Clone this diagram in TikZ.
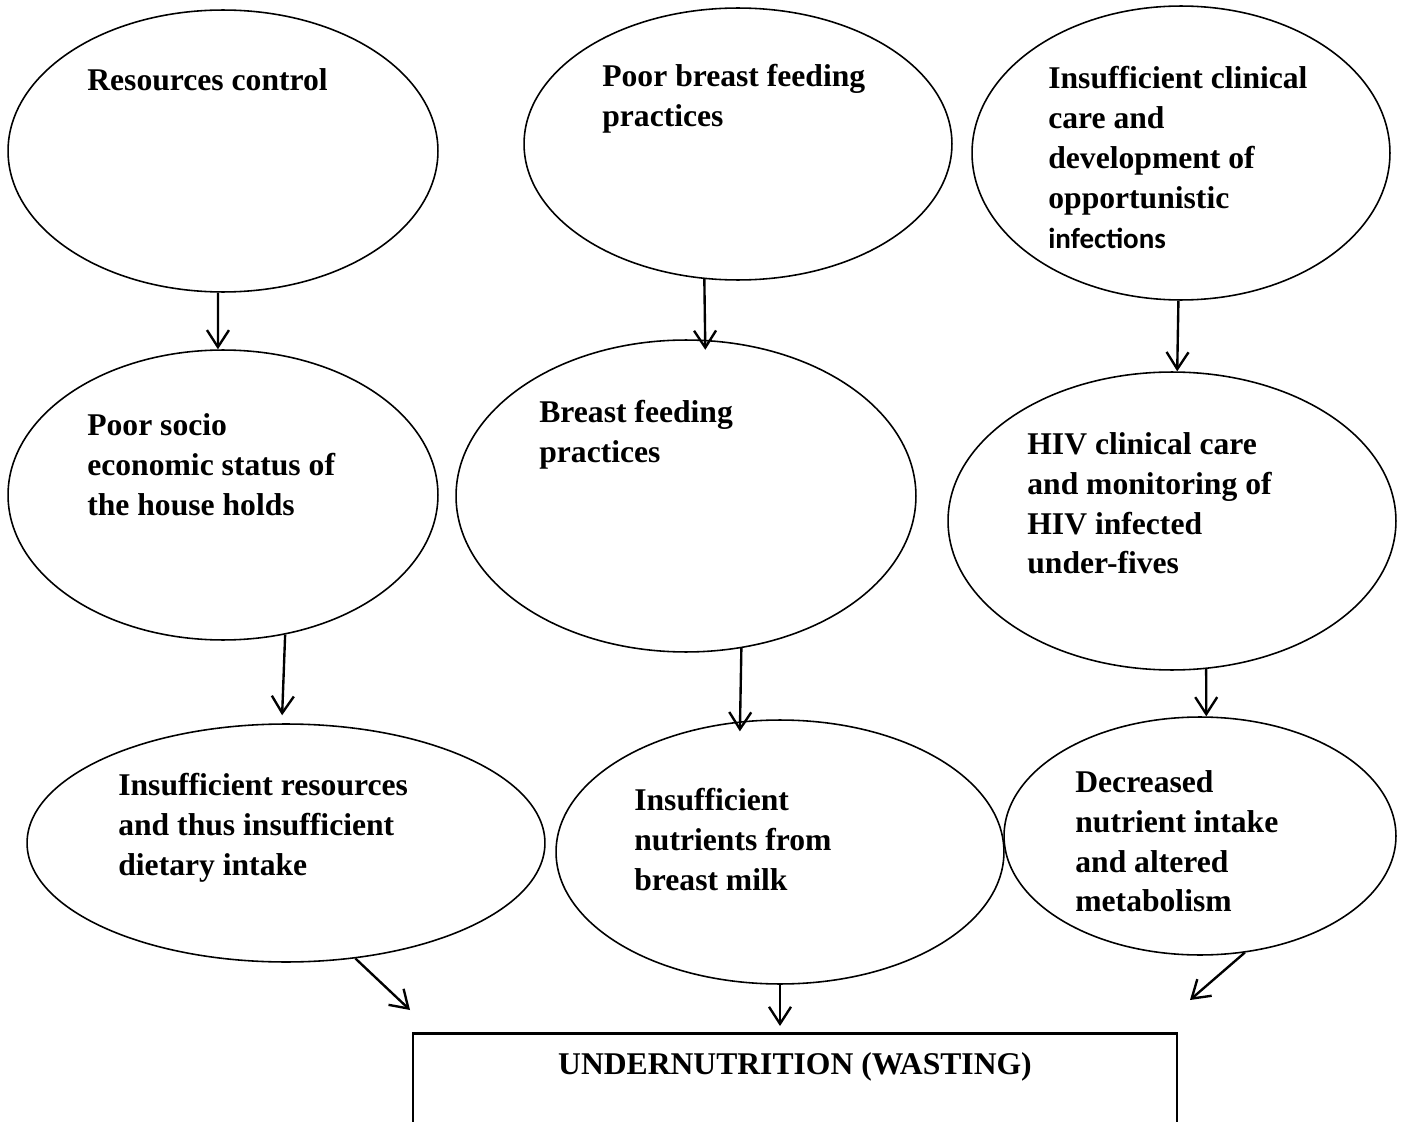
\documentclass[tikz,border=0pt]{standalone}
\usepackage{fontspec}
\setmainfont{Liberation Serif}
\newfontfamily\calibrifont{Carlito}
\usetikzlibrary{arrows.meta,shapes.geometric}

\begin{document}
\begin{tikzpicture}[
                x=0.02cm, y=-0.02cm,
                font=\fontsize{18}{22.7}\selectfont\bfseries,
                >={Straight Barb[length=0.34cm,width=0.44cm]},
                % Ovali per le cause
                bubble/.style={
                    draw,
                    ellipse,
                    line width=0.9pt,
                    inner sep=0pt
                },
                % Testo dentro gli ovali
                lbl/.style={anchor=north west, inner sep=0pt, align=left},
                cause/.style={->, line width=1.35pt}
            ]

                \useasboundingbox (0,0) rectangle (1401,1122);
                \clip (0,0) rectangle (1401,1122);

                % ========================================================
                % 1. Riga superiore
                % ========================================================
                \node[bubble, minimum width=8.6cm, minimum height=5.64cm] (res) at (223,151) {};
                \node[lbl] (res-t) at (87,68) {Resources control};

                \node[bubble, minimum width=8.56cm, minimum height=5.44cm] (pbf) at (738,144) {};
                \node[lbl] (pbf-t) at (602,64) {Poor breast feeding\\practices};

                \node[bubble, minimum width=8.36cm, minimum height=5.88cm] (clin) at (1181,153) {};
                \node[lbl] (clin-t) at (1048,66) {Insufficient clinical\\care and\\development of\\opportunistic\\{\calibrifont\fontsize{16.5}{20}\selectfont infections}};

                % ========================================================
                % 2. Riga centrale
                % ========================================================
                \node[bubble, minimum width=8.6cm, minimum height=5.8cm] (socio) at (223,495) {};
                \node[lbl] (socio-t) at (87,413) {Poor socio\\economic status of\\the house holds};

                \node[bubble, minimum width=9.2cm, minimum height=6.24cm] (bfp) at (686,496) {};
                \node[lbl] (bfp-t) at (539,400) {Breast feeding\\practices};

                \node[bubble, minimum width=8.96cm, minimum height=5.96cm] (hiv) at (1172,521) {};
                \node[lbl] (hiv-t) at (1027,432) {HIV clinical care\\and monitoring of\\HIV infected\\under-fives};

                % ========================================================
                % 3. Riga inferiore
                % ========================================================
                \node[bubble, minimum width=10.36cm, minimum height=4.76cm] (diet) at (286,843) {};
                \node[lbl] (diet-t) at (118,773) {Insufficient resources\\and thus insufficient\\dietary intake};

                \node[bubble, minimum width=8.96cm, minimum height=5.28cm] (milk) at (780,852) {};
                \node[lbl] (milk-t) at (634,788) {Insufficient\\nutrients from\\breast milk};

                \node[bubble, minimum width=7.84cm, minimum height=4.76cm] (intake) at (1200,836) {};
                \node[lbl] (intake-t) at (1075,770) {Decreased\\nutrient intake\\and altered\\metabolism};

                % ========================================================
                % 4. Riquadro finale (tagliato in basso)
                % ========================================================
                \node[draw, line width=1.6pt, minimum width=15.28cm, minimum height=2.8cm,
                      anchor=north] (wasting) at (795,1032) {};
                \node[anchor=north] (wasting-t) at (795,1046) {UNDERNUTRITION (WASTING)};

                % Punti liberi delle frecce oblique
                \coordinate (endl) at (410,1010);
                \coordinate (endr) at (1190,1000);

                % ========================================================
                % 5. Frecce
                % ========================================================
                \draw[cause] (res.-92) -- (socio.92);
                \draw[cause, shorten >=-0.2cm] (pbf.-104) -- (bfp.83);
                \draw[cause] (clin.-91) -- (hiv.88);

                \draw[cause, shorten >=0.16cm] (socio.-66) -- (diet.92);
                \draw[cause, shorten >=-0.2cm] (bfp.-70) -- (milk.107);
                \draw[cause] (hiv.-77) -- (intake.87);

                \draw[cause] (diet.-59) -- (endl);
                \draw[cause, shorten >=0.12cm] (milk.south) -- (milk.south |- wasting.north);
                \draw[cause] (intake.-69) -- (endr);

            \end{tikzpicture}
\end{document}
